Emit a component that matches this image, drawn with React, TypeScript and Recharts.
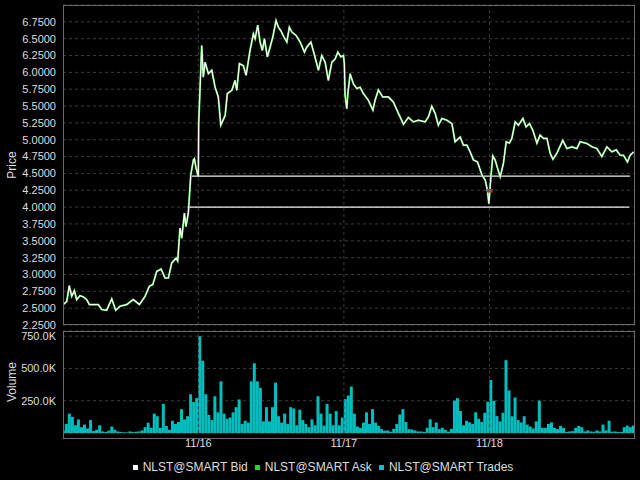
import React from 'react';
import {
  ComposedChart,
  Line,
  Bar,
  XAxis,
  YAxis,
  CartesianGrid,
  ReferenceLine,
  ReferenceDot,
} from 'recharts';

// ---- data ----
const dayTicks = [1, 2, 3];
const dayLabels = ['11/16', '11/17', '11/18'];
const timeDomain = [0.07, 4.0];

const priceTicks = [2.25, 2.5, 2.75, 3.0, 3.25, 3.5, 3.75, 4.0, 4.25, 4.5, 4.75, 5.0, 5.25, 5.5, 5.75, 6.0, 6.25, 6.5, 6.75];
const priceDomain = [2.25, 7.0];

const volumeTicks = [250000, 500000, 750000];
const volumeTickLabels = ['250.0K', '500.0K', '750.0K'];
const volumeDomain = [0, 790000];

const priceTime = [
  0.072, 0.096, 0.113, 0.13, 0.148, 0.164, 0.187, 0.21, 0.233, 0.251,
  0.278, 0.313, 0.336, 0.37, 0.405, 0.432, 0.462, 0.508, 0.553, 0.595,
  0.634, 0.663, 0.687, 0.714, 0.744, 0.771, 0.794, 0.817, 0.847, 0.858,
  0.874, 0.886, 0.904, 0.915, 0.931, 0.948, 0.966, 0.973, 0.984, 1.0,
  1.002, 1.023, 1.034, 1.046, 1.069, 1.092, 1.115, 1.137, 1.154, 1.184,
  1.199, 1.23, 1.252, 1.264, 1.282, 1.309, 1.328, 1.355, 1.378, 1.39,
  1.408, 1.424, 1.44, 1.454, 1.474, 1.493, 1.511, 1.534, 1.55, 1.566,
  1.589, 1.608, 1.625, 1.642, 1.671, 1.699, 1.729, 1.745, 1.773, 1.795,
  1.825, 1.848, 1.871, 1.893, 1.917, 1.94, 1.958, 1.979, 1.997, 2.003,
  2.008, 2.02, 2.027, 2.043, 2.065, 2.089, 2.111, 2.134, 2.168, 2.199,
  2.214, 2.237, 2.267, 2.306, 2.34, 2.375, 2.386, 2.409, 2.443, 2.478,
  2.512, 2.558, 2.581, 2.604, 2.627, 2.649, 2.673, 2.707, 2.742, 2.764,
  2.799, 2.821, 2.845, 2.867, 2.89, 2.918, 2.948, 2.971, 2.986, 2.996,
  3.01, 3.023, 3.039, 3.055, 3.074, 3.096, 3.115, 3.137, 3.154, 3.177,
  3.199, 3.23, 3.252, 3.275, 3.298, 3.326, 3.348, 3.371, 3.395, 3.417,
  3.436, 3.463, 3.504, 3.532, 3.566, 3.601, 3.623, 3.669, 3.704, 3.738,
  3.772, 3.807, 3.841, 3.871, 3.898, 3.921, 3.948, 3.967, 3.99,
];

const bidPrice = [
  2.553, 2.6, 2.834, 2.677, 2.76, 2.627, 2.686, 2.667, 2.627, 2.553,
  2.553, 2.553, 2.48, 2.469, 2.637, 2.469, 2.528, 2.553, 2.627, 2.553,
  2.677, 2.824, 2.849, 3.046, 3.081, 2.948, 2.948, 3.17, 3.244, 3.2,
  3.69, 3.54, 3.91, 3.71, 3.91, 4.48, 4.7, 4.72, 4.58, 4.45,
  5.22, 6.4, 5.93, 6.15, 5.98, 6.03, 5.78, 5.635, 5.216, 5.36,
  5.685, 5.734, 5.88, 5.734, 6.13, 6.1, 5.956, 6.325, 6.57, 6.5,
  6.7, 6.45, 6.325, 6.5, 6.23, 6.375, 6.52, 6.77, 6.67, 6.62,
  6.52, 6.45, 6.67, 6.6, 6.55, 6.45, 6.3, 6.375, 6.45, 6.28,
  6.03, 6.25, 6.15, 5.88, 6.15, 6.2, 6.3, 6.23, 6.25, 6.13,
  5.66, 5.46, 5.685, 5.98, 5.83, 5.76, 5.78, 5.685, 5.586, 5.44,
  5.586, 5.74, 5.635, 5.635, 5.56, 5.39, 5.34, 5.23, 5.33, 5.265,
  5.29, 5.265, 5.34, 5.497, 5.39, 5.216, 5.315, 5.29, 5.24, 4.97,
  5.04, 4.92, 4.92, 4.82, 4.7, 4.67, 4.48, 4.4, 4.25, 4.05,
  4.45, 4.76, 4.7, 4.58, 4.45, 4.65, 4.97, 4.95, 5.02, 5.265,
  5.216, 5.315, 5.19, 5.24, 5.14, 4.95, 5.07, 5.02, 5.02, 4.8,
  4.71, 4.8, 4.99, 4.87, 4.895, 4.87, 4.97, 4.945, 4.895, 4.87,
  4.75, 4.895, 4.82, 4.85, 4.77, 4.77, 4.67, 4.77, 4.82,
];

// 30-minute volume bars (thousands of shares)
const volumeStart = 0.072;
const barsPerDay = 48;
const volumeK = [
  20, 70, 150, 125, 60, 105, 45, 65, 35, 100,
  15, 25, 60, 12, 8, 18, 50, 25, 12, 8,
  5, 5, 12, 8, 10, 12, 20, 45, 80, 40,
  150, 130, 40, 225, 55, 25, 95, 70, 85, 185,
  105, 130, 300, 240, 270, 750, 560, 300, 140, 100,
  285, 160, 400, 150, 110, 120, 160, 200, 260, 70,
  95, 80, 400, 540, 400, 350, 90, 200, 90, 200,
  390, 130, 80, 150, 70, 200, 190, 60, 180, 100,
  70, 45, 106, 60, 285, 150, 57, 225, 150, 60,
  170, 60, 120, 262, 290, 360, 150, 50, 40, 80,
  160, 70, 185, 80, 55, 30, 18, 20, 10, 32,
  69, 143, 185, 85, 30, 27, 20, 12, 12, 8,
  40, 106, 45, 82, 30, 40, 25, 10, 32, 250,
  270, 170, 60, 94, 82, 70, 160, 110, 85, 156,
  243, 410, 250, 131, 90, 156, 564, 330, 130, 275,
  100, 82, 130, 65, 50, 35, 90, 250, 40, 40,
  70, 82, 40, 30, 55, 40, 8, 12, 15, 40,
  55, 45, 12, 20, 12, 10, 20, 12, 65, 20,
  95, 10, 12, 8, 8, 45, 57, 45, 57,
];

const levelPrices = [4.46, 4.0];
const levelFrom = [0.955, 0.925];
const levelTo = [3.967, 3.96];

const markerTime = 3.003;
const markerPrice = 4.24;

const legendNames = ['NLST@SMART Bid', 'NLST@SMART Ask', 'NLST@SMART Trades'];
const legendColors = ['#ffffff', '#33cc33', '#00c4c4'];

// ---- derived tables ----
const priceData = priceTime.map((t, i) => ({ t, bid: bidPrice[i], ask: bidPrice[i] }));
const volumeData = volumeK.map((v, i) => ({ t: volumeStart + i / barsPerDay, vol: v * 1000 }));

const FONT = '"Liberation Sans", Arial, sans-serif';
const TEXT = '#dedede';
const GRID = '#3c3c3c';
const BORDER = '#6a6a6a';

const tickStyle = { fill: TEXT, fontSize: 11, fontFamily: FONT };

const Marker = (props: any) => {
  const { cx, cy } = props;
  return (
    <g>
      <rect x={cx - 3} y={cy - 2} width={6} height={1.6} fill="#3355dd" />
      <rect x={cx - 3} y={cy - 0.4} width={6} height={2} fill="#cc2222" />
    </g>
  );
};

export default function App() {
  return (
    <div
      style={{
        position: 'absolute',
        left: 0,
        top: 0,
        width: 640,
        height: 480,
        background: '#000',
        fontFamily: FONT,
        overflow: 'hidden',
      }}
    >
      {/* Price panel */}
      <div style={{ position: 'absolute', left: 0, top: 0 }}>
        <ComposedChart
          width={640}
          height={330}
          data={priceData}
          margin={{ top: 5, right: 5, bottom: 5, left: 0 }}
        >
          <CartesianGrid vertical={false} stroke={GRID} strokeDasharray="3 3" />
          <XAxis dataKey="t" type="number" domain={timeDomain} ticks={dayTicks} allowDataOverflow hide />
          <YAxis
            type="number"
            domain={priceDomain}
            ticks={priceTicks}
            interval={0}
            allowDataOverflow
            width={63}
            axisLine={false}
            tickLine={false}
            tickSize={3}
            tickMargin={4}
            tick={tickStyle}
            tickFormatter={(v: number) => v.toFixed(4)}
            label={{
              value: 'Price',
              angle: -90,
              position: 'insideLeft',
              offset: 12,
              fill: TEXT,
              fontSize: 12,
              fontFamily: FONT,
              style: { textAnchor: 'middle' },
            }}
          />
          {dayTicks.map((d) => (
            <ReferenceLine key={d} x={d} stroke={GRID} strokeDasharray="3 3" />
          ))}
          {levelPrices.map((p, i) => (
            <ReferenceLine
              key={'lvl' + i}
              segment={[
                { x: levelFrom[i], y: p },
                { x: levelTo[i], y: p },
              ]}
              stroke="#f0f0f0"
              strokeWidth={1.3}
            />
          ))}
          <Line
            dataKey="ask"
            stroke="#2fbf2f"
            strokeWidth={2}
            dot={false}
            isAnimationActive={false}
            type="linear"
          />
          <Line
            dataKey="bid"
            stroke="#ffffff"
            strokeWidth={1.2}
            dot={false}
            isAnimationActive={false}
            type="linear"
          />
          <ReferenceDot x={markerTime} y={markerPrice} r={3} shape={Marker} />
        </ComposedChart>
      </div>
      <div
        style={{
          position: 'absolute',
          left: 63,
          top: 5,
          width: 572,
          height: 320,
          border: `1px solid ${BORDER}`,
          boxSizing: 'border-box',
          pointerEvents: 'none',
        }}
      />

      {/* Volume panel */}
      <div style={{ position: 'absolute', left: 0, top: 326 }}>
        <ComposedChart
          width={640}
          height={132}
          data={volumeData}
          margin={{ top: 5, right: 5, bottom: 0, left: 0 }}
        >
          <CartesianGrid vertical={false} stroke={GRID} strokeDasharray="3 3" />
          <XAxis
            dataKey="t"
            type="number"
            domain={timeDomain}
            ticks={dayTicks}
            interval={0}
            allowDataOverflow
            height={25}
            axisLine={false}
            tickLine={false}
            tickSize={2}
            tickMargin={4}
            tick={tickStyle}
            tickFormatter={(v: number) => dayLabels[dayTicks.indexOf(v)] ?? ''}
          />
          <YAxis
            type="number"
            domain={volumeDomain}
            ticks={volumeTicks}
            interval={0}
            allowDataOverflow
            width={63}
            axisLine={false}
            tickLine={false}
            tickSize={3}
            tickMargin={4}
            tick={tickStyle}
            tickFormatter={(v: number) => volumeTickLabels[volumeTicks.indexOf(v)] ?? ''}
            label={{
              value: 'Volume',
              angle: -90,
              position: 'insideLeft',
              offset: 12,
              fill: TEXT,
              fontSize: 12,
              fontFamily: FONT,
              style: { textAnchor: 'middle' },
            }}
          />
          {dayTicks.map((d) => (
            <ReferenceLine key={d} x={d} stroke={GRID} strokeDasharray="3 3" />
          ))}
          <Bar dataKey="vol" fill="#00bebe" barSize={3} isAnimationActive={false} />
        </ComposedChart>
      </div>
      <div
        style={{
          position: 'absolute',
          left: 63,
          top: 331,
          width: 572,
          height: 108,
          border: `1px solid ${BORDER}`,
          boxSizing: 'border-box',
          pointerEvents: 'none',
        }}
      />

      {/* Legend */}
      <div
        style={{
          position: 'absolute',
          left: 0,
          top: 459,
          width: 640,
          height: 16,
          display: 'flex',
          justifyContent: 'center',
          alignItems: 'center',
          color: TEXT,
          fontSize: 12,
          fontFamily: FONT,
          paddingLeft: 6,
          boxSizing: 'border-box',
        }}
      >
        {legendNames.map((name, i) => (
          <div key={name} style={{ display: 'flex', alignItems: 'center', marginRight: i < 2 ? 7 : 0 }}>
            <span
              style={{
                display: 'inline-block',
                width: 5,
                height: 5,
                background: legendColors[i],
                marginRight: 5,
              }}
            />
            <span>{name}</span>
          </div>
        ))}
      </div>
    </div>
  );
}
